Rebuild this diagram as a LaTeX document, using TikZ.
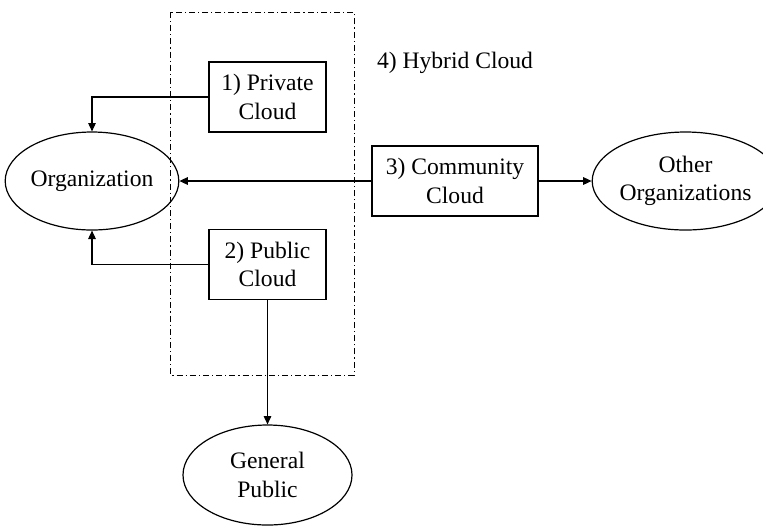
\documentclass[tikz,border=0pt]{standalone}
\usepackage{fontspec}
\setmainfont{Liberation Serif}
\usepackage{tikz}
\usetikzlibrary{shapes, arrows.meta, positioning, calc}

\tikzset{
  cloudbox/.style={draw, line width=0.6pt, align=center, inner sep=1pt, minimum height=35pt},
  userell/.style={draw, ellipse, line width=0.6pt, align=center, inner sep=0pt},
  link/.style={-{Triangle[length=4.2pt,width=3.8pt]}, line width=0.55pt},
}

\begin{document}
\begin{tikzpicture}[x=0.5pt, y=-0.5pt, font=\fontsize{11.8}{14.2}\selectfont]
      \useasboundingbox (0,0) rectangle (763,526);

      % hybrid frame
      \draw[line width=0.5pt, dash pattern=on 3pt off 1.5pt on 0.6pt off 1.5pt] (170,12) rectangle (354,375);
      \node (hybrid) at (455,63) {4) Hybrid Cloud};

      \node[cloudbox, minimum width=58.5pt] (private) at (267.5,97) {1) Private\\ Cloud};
      \node[cloudbox, minimum width=58.5pt] (public) at (267.5,264.5) {2) Public\\Cloud};
      \node[cloudbox, minimum width=83pt] (community) at (455,181) {3) Community\\Cloud};

      \node[userell, minimum width=79pt, minimum height=49pt] (org) at (92,181) {Organization};
      \node[userell, minimum width=76.5pt, minimum height=49pt] (others) at (685.5,181) {Other\\Organizations};
      \node[userell, minimum width=84.5pt, minimum height=50pt] (genpub) at (267.5,475) {General\\Public};

      \draw[link] (private.west) -| (org.north);
      \draw[link] (public.west) -| (org.south);
      \draw[link] (community.west) -- (org.east);
      \draw[link] (community.east) -- (others.west);
      \draw[link] (public.south) -- (genpub.north);
    \end{tikzpicture}
\end{document}
